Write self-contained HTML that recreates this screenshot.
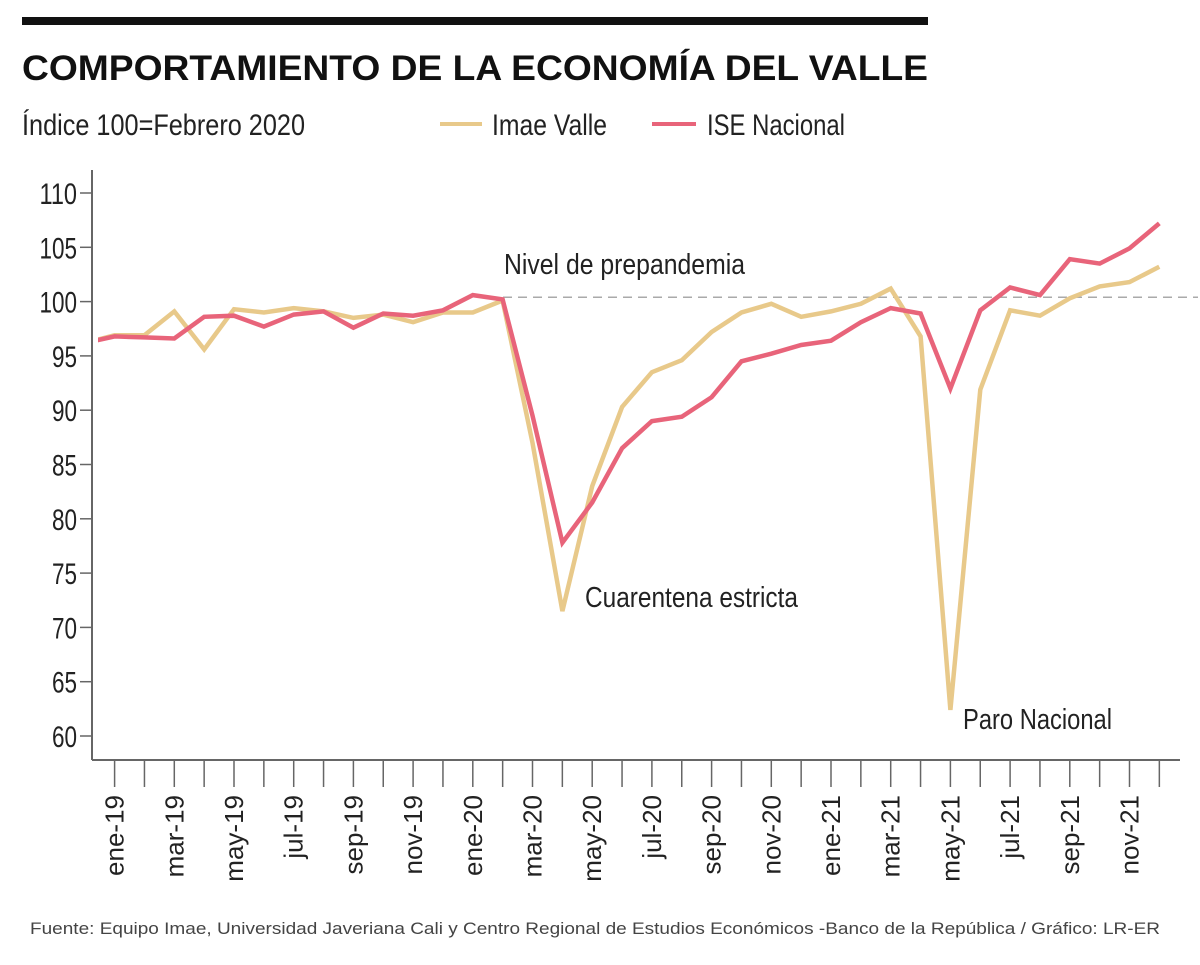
<!DOCTYPE html>
<html><head><meta charset="utf-8"><style>
body{margin:0;background:#fff;}
svg{display:block;}
text{font-family:"Liberation Sans Narrow","Liberation Sans",sans-serif;}
</style></head><body>
<svg id="chart" width="1200" height="965" viewBox="0 0 1200 965">
<rect x="22" y="17" width="906" height="8" fill="#111"/>
<text x="22" y="80" font-family="Liberation Sans" font-weight="bold" font-size="35" fill="#111" textLength="906" lengthAdjust="spacingAndGlyphs">COMPORTAMIENTO DE LA ECONOMÍA DEL VALLE</text>
<text x="22" y="135" font-size="30" fill="#222" textLength="283" lengthAdjust="spacingAndGlyphs">Índice 100=Febrero 2020</text>
<g><line x1="440" y1="124" x2="482" y2="124" stroke="#e8c98a" stroke-width="4"/><text x="492" y="135" font-size="30" fill="#222" textLength="115" lengthAdjust="spacingAndGlyphs">Imae Valle</text></g>
<g><line x1="652" y1="124" x2="696" y2="124" stroke="#e8647a" stroke-width="4"/><text x="707" y="135" font-size="30" fill="#222" textLength="138" lengthAdjust="spacingAndGlyphs">ISE Nacional</text></g>
<g id="yaxis"></g>
<g id="xaxis"></g>
<defs><clipPath id="clip"><rect x="98" y="150" width="1100" height="620"/></clipPath></defs>
<g id="plot" clip-path="url(#clip)"></g>
<text x="504" y="274" font-size="29" fill="#222" textLength="241" lengthAdjust="spacingAndGlyphs">Nivel de prepandemia</text>
<text x="585" y="607" font-size="29" fill="#222" textLength="213" lengthAdjust="spacingAndGlyphs">Cuarentena estricta</text>
<text x="963" y="729" font-size="29" fill="#222" textLength="149" lengthAdjust="spacingAndGlyphs">Paro Nacional</text>
<text x="30" y="934" font-family="Liberation Sans" font-size="17" fill="#444" textLength="1130" lengthAdjust="spacingAndGlyphs">Fuente: Equipo Imae, Universidad Javeriana Cali y Centro Regional de Estudios Económicos -Banco de la República / Gráfico: LR-ER</text>
</svg>
<script>
const months = ["dic-18","ene-19","feb-19","mar-19","abr-19","may-19","jun-19","jul-19","ago-19","sep-19","oct-19","nov-19","dic-19","ene-20","feb-20","mar-20","abr-20","may-20","jun-20","jul-20","ago-20","sep-20","oct-20","nov-20","dic-20","ene-21","feb-21","mar-21","abr-21","may-21","jun-21","jul-21","ago-21","sep-21","oct-21","nov-21","dic-21"];
const imaeValle = [96.2,96.9,96.9,99.1,95.6,99.3,99.0,99.4,99.1,98.5,98.8,98.1,99.0,99.0,100.1,87.0,71.5,83.0,90.3,93.5,94.6,97.2,99.0,99.8,98.6,99.1,99.8,101.2,96.8,62.4,91.9,99.2,98.7,100.3,101.4,101.8,103.2];
const iseNacional = [96.2,96.8,96.7,96.6,98.6,98.7,97.7,98.8,99.1,97.6,98.9,98.7,99.2,100.6,100.2,89.5,77.8,81.5,86.5,89.0,89.4,91.2,94.5,95.2,96.0,96.4,98.1,99.4,98.9,92.0,99.2,101.3,100.6,103.9,103.5,104.9,107.2];
const yTicks = [60,65,70,75,80,85,90,95,100,105,110];
const xLabels = ["ene-19","mar-19","may-19","jul-19","sep-19","nov-19","ene-20","mar-20","may-20","jul-20","sep-20","nov-20","ene-21","mar-21","may-21","jul-21","sep-21","nov-21"];
const prepandemia = 100.4;

const NS="http://www.w3.org/2000/svg";
function y(v){return 193+(110-v)*10.86;}
function x(i){return 114.6+(i-1)*29.85;}
function mk(t,a,p){const e=document.createElementNS(NS,t);for(const k in a)e.setAttribute(k,a[k]);p.appendChild(e);return e;}
const ya=document.getElementById('yaxis'),xa=document.getElementById('xaxis'),pl=document.getElementById('plot');
mk('line',{x1:92,y1:170,x2:92,y2:760,stroke:'#666','stroke-width':2},ya);
mk('line',{x1:92,y1:760,x2:1180,y2:760,stroke:'#666','stroke-width':2},xa);
yTicks.forEach(v=>{
  mk('line',{x1:80,y1:y(v),x2:92,y2:y(v),stroke:'#666','stroke-width':1.5},ya);
  const t=mk('text',{x:77,y:y(v)+11,'text-anchor':'end','font-size':30,fill:'#222',textLength:String(v).length*12.5,lengthAdjust:'spacingAndGlyphs'},ya);
  t.textContent=v;
  
  
});
for(let i=1;i<months.length;i++){
  mk('line',{x1:x(i),y1:760,x2:x(i),y2:787,stroke:'#666','stroke-width':1.5},xa);
}
xLabels.forEach(l=>{
  const i=months.indexOf(l);
  const t=mk('text',{transform:`translate(${x(i)+9},795) rotate(-90)`,'text-anchor':'end','font-size':26,fill:'#222'},xa);
  t.textContent=l;
  
  
});
const dl=mk('line',{x1:503,y1:y(prepandemia),x2:1200,y2:y(prepandemia),stroke:'#aaa','stroke-width':1.5,'stroke-dasharray':'9 6'},pl);


function series(vals,col,name){
  const d=vals.map((v,i)=>(i?'L':'M')+x(i).toFixed(1)+','+y(v).toFixed(1)).join('');
  const p=mk('path',{d:d,fill:'none',stroke:col,'stroke-width':4.5,'stroke-linejoin':'miter'},pl);
  
  
}
series(imaeValle,'#e8c98a','imae-valle-line');
series(iseNacional,'#e8647a','ise-nacional-line');
</script>
</body></html>
